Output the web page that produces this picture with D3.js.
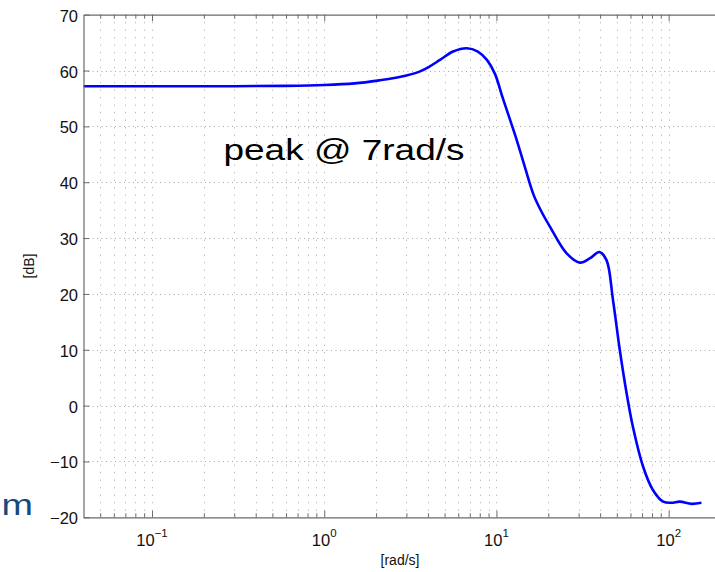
<!DOCTYPE html>
<html>
<head>
<meta charset="utf-8">
<script src="https://cdn.jsdelivr.net/npm/d3@7"></script>
<style>
  html, body { margin: 0; padding: 0; background: #fff; overflow: hidden; }
  svg { display: block; font-family: "Liberation Sans", Arial, Helvetica, sans-serif; }
</style>
</head>
<body>
<svg id="chart" width="715" height="572"></svg>
<script>
// Frequency response magnitude (rad/s vs dB)
const freq = [0.04, 0.1, 0.3, 0.6, 1.0, 1.5, 2.1, 2.6, 3.0, 3.6, 4.1, 4.7, 5.6, 6.73, 7.8, 8.8, 9.8,
              10.9, 13.1, 14.6, 16.5, 18.5, 20.4, 25.5, 30.5, 35, 39.5, 43.5, 47.5, 52, 57,
              62, 71, 81, 93, 104, 116, 136, 155];
const magDb = [57.2, 57.2, 57.2, 57.25, 57.4, 57.7, 58.25, 58.7, 59.1, 59.85, 60.75, 61.9, 63.4, 64.0, 63.4, 61.9, 59.4,
               55.0, 47.6, 42.8, 37.6, 34.4, 32.1, 27.3, 25.6, 26.4, 27.5, 26.1, 18.9, 10.0, 2.2,
               -3.8, -10.9, -15.1, -17.2, -17.4, -17.2, -17.6, -17.4];

const yTickValues = [-20, -10, 0, 10, 20, 30, 40, 50, 60, 70];
const xMajorExponents = [-1, 0, 1, 2];
const xLabel = "[rad/s]";
const yLabel = "[dB]";
const annotation = "peak @ 7rad/s";
const sideText = "m";

const svg = d3.select("#chart");
const plotLeft = 83.5, plotRight = 720.5, plotTop = 14.7, plotBottom = 517.3;

const x = d3.scaleLog().domain([0.04, 200]).range([plotLeft, plotRight]);
const y = d3.scaleLinear().domain([-20, 70]).range([plotBottom, plotTop]);

// minor + major decade positions within the domain
const xAllTicks = [];
for (let e = -2; e <= 2; e++) {
  for (let m = 1; m <= 9; m++) {
    const v = m * Math.pow(10, e);
    if (v > 0.0401 && v <= 200) xAllTicks.push(v);
  }
}
const xMajor = xMajorExponents.map(e => Math.pow(10, e));
const isMajor = v => xMajor.some(t => Math.abs(t - v) / t < 1e-9);

// grid
const grid = svg.append("g").attr("stroke", "#a8a8a8").attr("stroke-width", 1).attr("fill", "none");
grid.selectAll("line.v").data(xAllTicks).join("line")
  .attr("x1", d => Math.round(x(d)) + 0.5).attr("x2", d => Math.round(x(d)) + 0.5)
  .attr("y1", plotTop).attr("y2", plotBottom)
  .attr("stroke-dasharray", "1,6.5");
grid.selectAll("line.h").data(yTickValues.filter(v => v > -20 && v < 70)).join("line")
  .attr("x1", plotLeft).attr("x2", plotRight)
  .attr("y1", d => Math.round(y(d)) + 0.5).attr("y2", d => Math.round(y(d)) + 0.5)
  .attr("stroke-dasharray", "1,3.5");

// data line
const line = d3.line()
  .x((d, i) => x(freq[i]))
  .y(d => y(d))
  .curve(d3.curveCatmullRom.alpha(0.5));
svg.append("path")
  .datum(magDb)
  .attr("d", line)
  .attr("fill", "none")
  .attr("stroke", "#0000ff")
  .attr("stroke-width", 2.6)
  .attr("stroke-linejoin", "round");

// axes box with inward ticks (bottom/top and left)
const axisColor = "#6a6a6a";
const bottomAxis = d3.axisBottom(x).tickValues(xAllTicks).tickFormat("").tickSizeOuter(0)
  .tickSizeInner(-4);
const gB = svg.append("g").attr("transform", `translate(0,${plotBottom})`).call(bottomAxis);
const topAxis = d3.axisTop(x).tickValues(xAllTicks).tickFormat("").tickSizeOuter(0).tickSizeInner(-4);
const gT = svg.append("g").attr("transform", `translate(0,${plotTop})`).call(topAxis);
gB.selectAll(".tick line").filter(d => isMajor(d)).attr("y2", -6.5);
gT.selectAll(".tick line").filter(d => isMajor(d)).attr("y2", 6.5);
const leftAxis = d3.axisLeft(y).tickValues(yTickValues).tickFormat("").tickSizeOuter(0).tickSizeInner(-6);
const gL = svg.append("g").attr("transform", `translate(${plotLeft},0)`).call(leftAxis);
[gB, gT, gL].forEach(g => {
  g.select(".domain").attr("stroke", axisColor).attr("stroke-width", 1.2);
  g.selectAll(".tick line").attr("stroke", axisColor).attr("stroke-width", 1);
});

// y tick labels
svg.append("g").selectAll("text").data(yTickValues).join("text")
  .attr("x", 78).attr("y", d => y(d) + 7)
  .attr("text-anchor", "end")
  .attr("font-size", 16.5)
  .attr("fill", "#111")
  .text(d => (d < 0 ? "\u2212" + Math.abs(d) : String(d)));

// x tick labels as powers of ten
const xl = svg.append("g").selectAll("text").data(xMajorExponents).join("text")
  .attr("x", e => x(Math.pow(10, e)))
  .attr("y", 545.5)
  .attr("text-anchor", "middle")
  .attr("font-size", 16.5)
  .attr("fill", "#111");
xl.append("tspan").text("10");
xl.append("tspan").attr("dy", -9).attr("font-size", 11.5)
  .text(e => (e < 0 ? "\u2212" + Math.abs(e) : String(e)));

// axis titles
svg.append("text").attr("x", 400).attr("y", 565)
  .attr("text-anchor", "middle").attr("font-size", 14).attr("fill", "#111").text(xLabel);
svg.append("text").attr("transform", `translate(34,${(plotTop + plotBottom) / 2}) rotate(-90)`)
  .attr("text-anchor", "middle").attr("font-size", 14).attr("fill", "#111").text(yLabel);

// annotation
svg.append("text").attr("x", 223.5).attr("y", 160)
  .attr("font-size", 30).attr("fill", "#000")
  .attr("textLength", 241).attr("lengthAdjust", "spacingAndGlyphs")
  .text(annotation);

// fragment of text at the left margin
svg.append("text").attr("x", 1.5).attr("y", 515)
  .attr("font-size", 29).attr("fill", "#17487e")
  .attr("textLength", 31.5).attr("lengthAdjust", "spacingAndGlyphs")
  .text(sideText);
</script>
</body>
</html>
